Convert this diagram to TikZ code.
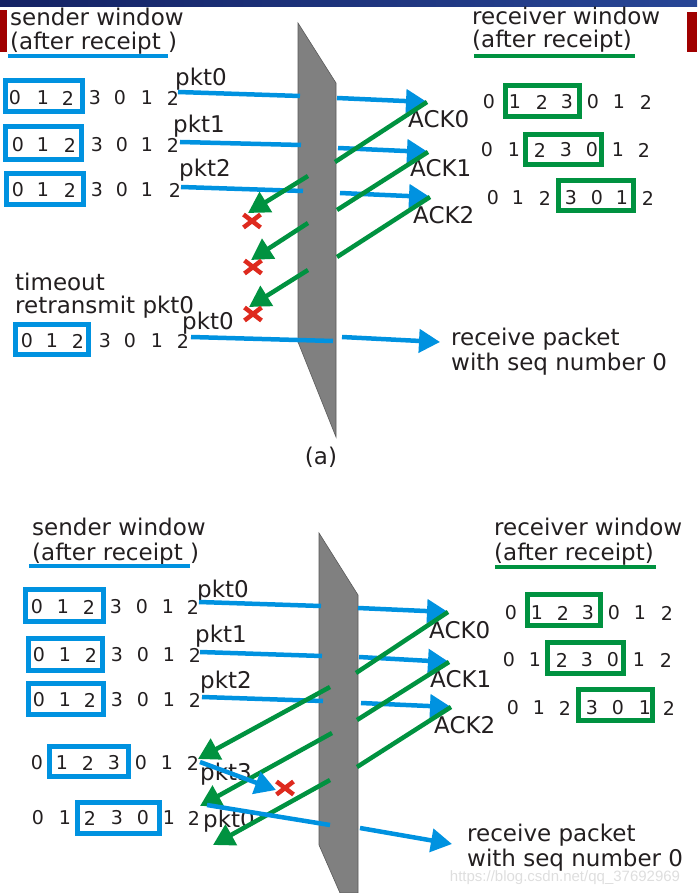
\documentclass[tikz,border=0pt]{standalone}
\usepackage{fontspec}
\setmainfont{DejaVu Sans}
\newfontfamily\wmfont{Liberation Sans}
\usetikzlibrary{arrows.meta}
\definecolor{pblue}{RGB}{0,146,224}
\definecolor{pgreen}{RGB}{0,146,64}
\definecolor{pred}{RGB}{222,42,30}
\definecolor{pgray}{RGB}{128,128,128}
\definecolor{ink}{RGB}{35,31,32}
\definecolor{navyA}{RGB}{20,34,100}
\definecolor{navyB}{RGB}{40,70,150}
\definecolor{hred}{RGB}{160,0,0}
\tikzset{
 lbl/.style={anchor=base west, inner sep=0pt, text=ink, font=\fontsize{23}{26}\selectfont},
 dig/.style={anchor=center, inner sep=0pt, text=ink, font=\fontsize{19}{22}\selectfont},
 sbox/.style={draw=pblue, line width=5pt, inner sep=0pt},
 rbox/.style={draw=pgreen, line width=5pt, inner sep=0pt},
 pkt/.style={draw=pblue, line width=4.5pt},
 pkta/.style={pkt, -{Triangle[length=21pt,width=23pt]}},
 ack/.style={draw=pgreen, line width=4.5pt},
 acka/.style={ack, -{Triangle[length=21pt,width=23pt]}},
 lost/.style={draw=pred, line width=4.5pt},
 wall/.style={fill=pgray, draw=black!65, line width=0.6pt},
 sul/.style={draw=pblue, line width=4pt},
 rul/.style={draw=pgreen, line width=4pt},
}
\newcommand{\digrow}[3]{\foreach \xx/\dd [count=\ii] in {#3} {\node[dig] (#1\ii) at (\xx,#2) {\dd};}}
\newcommand{\wbox}[6]{\node[#1, minimum width={#4-#2-5}, minimum height={#5-#3-5}] (#6) at ({(#2+#4)/2},{(#3+#5)/2}) {};}
\newcommand{\lostx}[3]{\draw[lost] (#2-8.5,#3-6.5) coordinate (#1a) -- (#2+8.5,#3+6.5) coordinate (#1b); \draw[lost] (#2-8.5,#3+6.5) coordinate (#1c) -- (#2+8.5,#3-6.5) coordinate (#1d);}
\begin{document}
\begin{tikzpicture}[x=1pt,y=-1pt]
\useasboundingbox (0,0) rectangle (697,893);
% header
\shade[left color=navyA, right color=navyB] (0,0) rectangle (697,7);
\fill[hred] (0,10) rectangle (7,52);
\fill[hred] (687,12) rectangle (697,52);
% walls
\draw[wall] (298,23) coordinate (wa1) -- (336,83) coordinate (wa2) -- (336,437) coordinate (wa3) -- (298,342) coordinate (wa4) -- cycle;
\draw[wall] (319,533) coordinate (wb1) -- (358,595) coordinate (wb2) -- (358,893) coordinate (wb3) -- (340,893) coordinate (wb4) -- (319,845) coordinate (wb5) -- cycle;

% ===== (a) =====
\node[lbl] (swa) at (10,26) {sender window};
\node[lbl] (ara) at (10,50) {(after receipt )};
\draw[sul] (8,56) coordinate (ula1) -- (168,56) coordinate (ula2);
\node[lbl] (rwa) at (472,25) {receiver window};
\node[lbl] (rra) at (472,48) {(after receipt)};
\draw[rul] (474,56) coordinate (ulr1) -- (635,56) coordinate (ulr2);

\digrow{saA}{98}{15/0,43/1,68/2,95/3,120/0,147/1,173/2}
\wbox{sbox}{3}{78}{85}{114}{boxsaA}
\digrow{saB}{145}{18/0,43/1,70/2,97/3,122/0,147/1,173/2}
\wbox{sbox}{3}{124}{84}{162}{boxsaB}
\digrow{saC}{190}{18/0,43/1,70/2,97/3,122/0,147/1,175/2}
\wbox{sbox}{4}{171}{86}{207}{boxsaC}
\digrow{saD}{341}{27/0,52/1,78/2,105/3,130/0,157/1,183/2}
\wbox{sbox}{13}{322}{91}{357}{boxsaD}

\digrow{raA}{102}{489/0,515/1,542/2,567/3,593/0,619/1,646/2}
\wbox{rbox}{503}{83}{582}{119}{boxraA}
\digrow{raB}{150}{487/0,514/1,540/2,566/3,592/0,618/1,644/2}
\wbox{rbox}{523}{132}{604}{167}{boxraB}
\digrow{raC}{198}{493/0,518/1,545/2,571/3,597/0,622/1,648/2}
\wbox{rbox}{556}{178}{636}{213}{boxraC}

\node[lbl] (pa0) at (175,86) {pkt0};
\node[lbl] (pa1) at (173,133) {pkt1};
\node[lbl] (pa2) at (179,177) {pkt2};
\node[lbl] (aa0) at (408,128) {ACK0};
\node[lbl] (aa1) at (410,177) {ACK1};
\node[lbl] (aa2) at (413,223) {ACK2};
\node[lbl] (toa) at (15,290) {timeout};
\node[lbl] (rta) at (15,313) {retransmit pkt0};
\node[lbl] (pa0r) at (182,329) {pkt0};
\node[lbl] (rpa) at (451,345) {receive packet};
\node[lbl] (wsa) at (451,370) {with seq number 0};
\node[anchor=center, inner sep=0pt, text=ink, font=\fontsize{23}{26}\selectfont] (capa) at (321,457) {(a)};

\draw[pkt] (178,92) coordinate (p0s) -- (300,96) coordinate (p0m);
\draw[pkta] (337,98) coordinate (p0n) -- (427,102) coordinate (p0e);
\draw[pkt] (180,142) coordinate (p1s) -- (301,145) coordinate (p1m);
\draw[pkta] (338,148) coordinate (p1n) -- (428,152) coordinate (p1e);
\draw[pkt] (181,187) coordinate (p2s) -- (303,191) coordinate (p2m);
\draw[pkta] (340,193) coordinate (p2n) -- (430,197) coordinate (p2e);
\draw[ack] (p0e) -- (335,162) coordinate (k0m);
\draw[ack] (p1e) -- (337,210) coordinate (k1m);
\draw[ack] (p2e) -- (337,257) coordinate (k2m);
\draw[acka] (308,176) coordinate (k0n) -- (248,213) coordinate (k0e);
\draw[acka] (308,223) coordinate (k1n) -- (251,260) coordinate (k1e);
\draw[acka] (308,270) coordinate (k2n) -- (249,307) coordinate (k2e);
\lostx{xa1}{252}{221}
\lostx{xa2}{253}{267}
\lostx{xa3}{253}{314}
\draw[pkt] (191,337) coordinate (r0s) -- (333,341) coordinate (r0m);
\draw[pkta] (342,337) coordinate (r0n) -- (440,342) coordinate (r0e);

% ===== (b) =====
\node[lbl] (swb) at (32,535) {sender window};
\node[lbl] (arb) at (32,560) {(after receipt )};
\draw[sul] (29,566) coordinate (ulb1) -- (190,566) coordinate (ulb2);
\node[lbl] (rwb) at (494,535) {receiver window};
\node[lbl] (rrb) at (494,560) {(after receipt)};
\draw[rul] (495,567) coordinate (ulrb1) -- (656,567) coordinate (ulrb2);

\digrow{sbA}{607}{37/0,63/1,89/2,116/3,142/0,168/1,193/2}
\wbox{sbox}{23}{587}{106}{624}{boxsbA}
\digrow{sbB}{655}{39/0,65/1,91/2,117/3,143/0,169/1,195/2}
\wbox{sbox}{26}{636}{105}{673}{boxsbB}
\digrow{sbC}{700}{39/0,65/1,90/2,117/3,143/0,169/1,195/2}
\wbox{sbox}{26}{681}{106}{717}{boxsbC}
\digrow{sbD}{763}{37/0,62/1,88/2,114/3,141/0,167/1,193/2}
\wbox{sbox}{47}{744}{131}{779}{boxsbD}
\digrow{sbE}{818}{38/0,65/1,90/2,117/3,143/0,169/1,194/2}
\wbox{sbox}{75}{800}{162}{836}{boxsbE}

\digrow{rbA}{613}{511/0,537/1,563/2,588/3,614/0,640/1,667/2}
\wbox{rbox}{525}{592}{603}{628}{boxrbA}
\digrow{rbB}{660}{509/0,535/1,562/2,587/3,613/0,639/1,666/2}
\wbox{rbox}{545}{640}{626}{676}{boxrbB}
\digrow{rbC}{708}{513/0,539/1,565/2,592/3,618/0,645/1,669/2}
\wbox{rbox}{576}{687}{655}{723}{boxrbC}

\node[lbl] (pb0) at (197,597) {pkt0};
\node[lbl] (pb1) at (195,642) {pkt1};
\node[lbl] (pb2) at (200,688) {pkt2};
\node[lbl] (ab0) at (429,638) {ACK0};
\node[lbl] (ab1) at (430,687) {ACK1};
\node[lbl] (ab2) at (434,733) {ACK2};
\node[lbl] (pb3) at (200,780) {pkt3};
\node[lbl] (pb0r) at (203,827) {pkt0};
\node[lbl] (rpb) at (467,841) {receive packet};
\node[lbl] (wsb) at (467,866) {with seq number 0};

\draw[pkt] (199,602) coordinate (q0s) -- (321,606) coordinate (q0m);
\draw[pkta] (358,608) coordinate (q0n) -- (448,612) coordinate (q0e);
\draw[pkt] (200,652) coordinate (q1s) -- (322,656) coordinate (q1m);
\draw[pkta] (359,657) coordinate (q1n) -- (449,662) coordinate (q1e);
\draw[pkt] (202,697) coordinate (q2s) -- (323,701) coordinate (q2m);
\draw[pkta] (361,703) coordinate (q2n) -- (451,707) coordinate (q2e);
\draw[ack] (q0e) -- (356,673) coordinate (m0m);
\draw[ack] (q1e) -- (357,720) coordinate (m1m);
\draw[ack] (q2e) -- (357,767) coordinate (m2m);
\draw[acka] (330,687) coordinate (m0n) -- (198,759) coordinate (m0e);
\draw[acka] (332,733) coordinate (m1n) -- (200,806) coordinate (m1e);
\draw[acka] (330,780) coordinate (m2n) -- (213,845) coordinate (m2e);
\draw[pkta] (200,762) coordinate (q3s) -- (276,790) coordinate (q3e);
\lostx{xb1}{285}{788}
\draw[pkt] (207,805) coordinate (s0s) -- (330,825) coordinate (s0m);
\draw[pkta] (360,828) coordinate (s0n) -- (452,844) coordinate (s0e);

\node[anchor=center, inner sep=0pt, text=black!13, font=\wmfont\fontsize{15}{17}\selectfont] (wm) at (565,878) {https://blog.csdn.net/qq\_37692969};
\end{tikzpicture}
\end{document}
